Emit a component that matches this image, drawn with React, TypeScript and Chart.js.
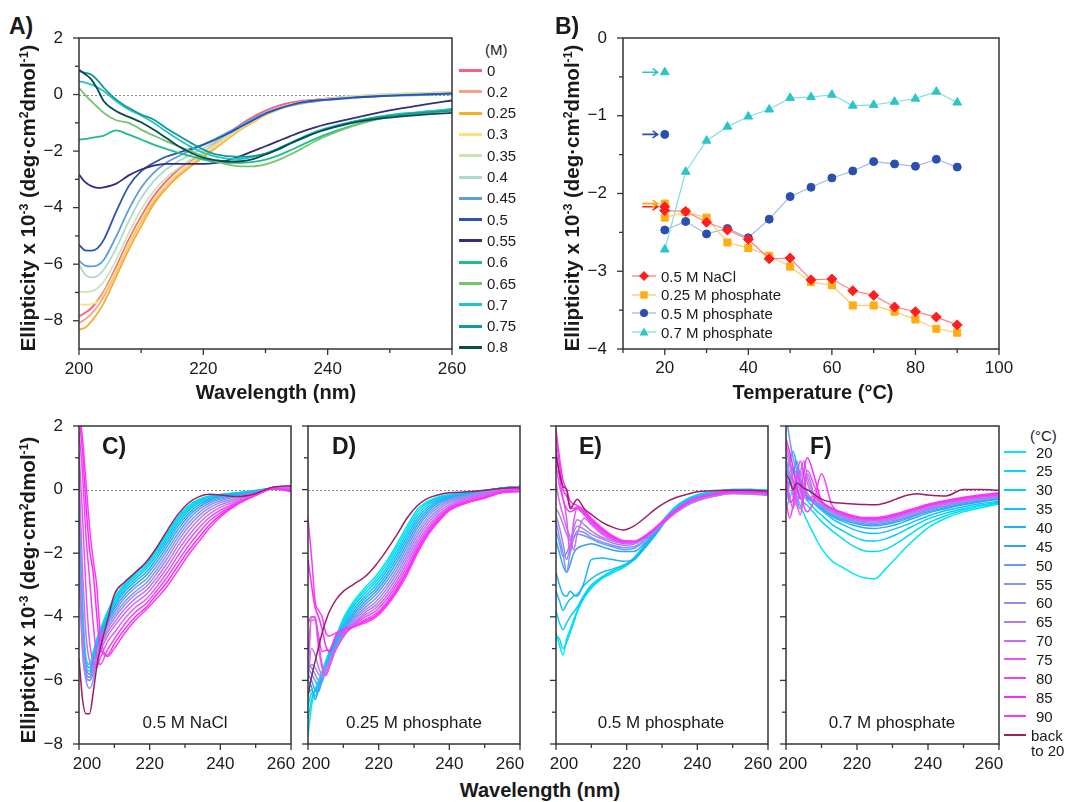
import React, { useEffect, useRef } from "react";
import { Chart, registerables } from "chart.js";

Chart.register(...registerables);

const FONT = "'Liberation Sans', Arial, Helvetica, sans-serif";
const TEXT = "#1a1a1a";

// ---------------- Panel A: concentration series ----------------
const wavelengthsA = [200, 201, 202, 203, 204, 206, 208, 210, 212, 214, 216, 218, 220, 222, 224, 226, 228, 230, 232, 234, 236, 238, 240, 244, 248, 252, 256, 260];
const concLabels = ["0", "0.2", "0.25", "0.3", "0.35", "0.4", "0.45", "0.5", "0.55", "0.6", "0.65", "0.7", "0.75", "0.8"];
const concColors = ["#f0657e", "#f5a28a", "#f8ad2a", "#fbe07c", "#cfe2b6", "#acdacd", "#609ddd", "#2c53b2", "#372c7c", "#1fbc8c", "#74c66c", "#22c4c4", "#119c98", "#0b4a4e"];
const A_00 = [-7.85, -7.72, -7.55, -7.28, -6.96, -6.08, -5.13, -4.31, -3.6, -3.07, -2.65, -2.33, -2.03, -1.71, -1.38, -1.06, -0.79, -0.57, -0.4, -0.29, -0.22, -0.18, -0.14, -0.07, -0.02, 0.01, 0.04, 0.06];
const A_02 = [-8.08, -7.95, -7.75, -7.49, -7.14, -6.25, -5.31, -4.48, -3.78, -3.22, -2.8, -2.45, -2.15, -1.83, -1.5, -1.18, -0.91, -0.67, -0.48, -0.35, -0.26, -0.19, -0.14, -0.06, -0.01, 0.02, 0.05, 0.06];
const A_025 = [-8.32, -8.24, -8.02, -7.73, -7.37, -6.43, -5.49, -4.66, -3.89, -3.33, -2.89, -2.54, -2.22, -1.89, -1.56, -1.24, -0.97, -0.73, -0.54, -0.4, -0.31, -0.24, -0.18, -0.08, -0.02, 0.02, 0.06, 0.08];
const A_03 = [-7.41, -7.43, -7.41, -7.32, -7.02, -6.19, -5.25, -4.42, -3.72, -3.19, -2.77, -2.42, -2.12, -1.83, -1.5, -1.2, -0.94, -0.71, -0.53, -0.39, -0.29, -0.22, -0.17, -0.08, -0.01, 0.02, 0.05, 0.07];
const A_035 = [-6.96, -6.98, -6.96, -6.84, -6.61, -5.84, -4.9, -4.07, -3.42, -2.95, -2.6, -2.3, -2.03, -1.75, -1.45, -1.18, -0.92, -0.68, -0.5, -0.35, -0.26, -0.2, -0.15, -0.06, 0.0, 0.04, 0.06, 0.08];
const A_04 = [-6.02, -6.37, -6.47, -6.41, -6.19, -5.43, -4.48, -3.66, -3.07, -2.65, -2.36, -2.12, -1.89, -1.65, -1.39, -1.14, -0.91, -0.68, -0.51, -0.38, -0.29, -0.22, -0.18, -0.09, -0.05, -0.01, 0.01, 0.04];
const A_045 = [-5.88, -6.05, -6.08, -6.04, -5.84, -5.01, -4.07, -3.3, -2.77, -2.42, -2.18, -1.97, -1.77, -1.56, -1.33, -1.1, -0.86, -0.65, -0.5, -0.39, -0.29, -0.24, -0.19, -0.12, -0.06, -0.04, -0.01, 0.01];
const A_05 = [-5.31, -5.51, -5.52, -5.43, -5.13, -4.13, -3.24, -2.71, -2.42, -2.2, -2.06, -1.92, -1.77, -1.59, -1.38, -1.14, -0.91, -0.68, -0.51, -0.37, -0.27, -0.21, -0.18, -0.11, -0.06, -0.02, 0.01, 0.04];
const A_055 = [-2.83, -3.1, -3.24, -3.3, -3.28, -3.15, -2.86, -2.65, -2.51, -2.45, -2.45, -2.45, -2.45, -2.42, -2.32, -2.18, -2.0, -1.83, -1.65, -1.47, -1.3, -1.16, -1.04, -0.84, -0.65, -0.48, -0.34, -0.21];
const A_06 = [-1.59, -1.57, -1.53, -1.5, -1.45, -1.27, -1.42, -1.59, -1.77, -1.92, -2.06, -2.18, -2.3, -2.38, -2.42, -2.42, -2.38, -2.3, -2.16, -1.97, -1.77, -1.57, -1.39, -1.1, -0.86, -0.71, -0.6, -0.51];
const A_065 = [0.24, -0.02, -0.24, -0.45, -0.65, -0.91, -1.0, -1.24, -1.45, -1.65, -1.83, -2.0, -2.18, -2.36, -2.48, -2.54, -2.54, -2.47, -2.32, -2.12, -1.89, -1.65, -1.45, -1.12, -0.88, -0.74, -0.65, -0.57];
const A_07 = [0.47, 0.42, 0.35, 0.25, 0.12, -0.24, -0.53, -0.74, -1.0, -1.3, -1.59, -1.85, -2.06, -2.2, -2.27, -2.28, -2.2, -2.09, -1.91, -1.71, -1.5, -1.32, -1.18, -0.96, -0.79, -0.67, -0.6, -0.53];
const A_075 = [0.83, 0.77, 0.7, 0.5, 0.24, -0.18, -0.47, -0.71, -0.88, -1.18, -1.45, -1.71, -1.95, -2.12, -2.18, -2.2, -2.18, -2.09, -1.92, -1.73, -1.55, -1.36, -1.2, -0.98, -0.81, -0.71, -0.63, -0.57];
const A_08 = [0.88, 0.72, 0.53, 0.18, -0.24, -0.59, -0.79, -0.98, -1.24, -1.53, -1.83, -2.06, -2.24, -2.32, -2.37, -2.36, -2.28, -2.12, -1.95, -1.73, -1.53, -1.36, -1.22, -1.0, -0.86, -0.77, -0.7, -0.65];
const seriesA = [A_00, A_02, A_025, A_03, A_035, A_04, A_045, A_05, A_055, A_06, A_065, A_07, A_075, A_08];

// ---------------- Panel B: temperature dependence ----------------
const temperatures = [20, 25, 30, 35, 40, 45, 50, 55, 60, 65, 70, 75, 80, 85, 90];
const nacl05 = [-2.22, -2.23, -2.37, -2.47, -2.59, -2.84, -2.83, -3.11, -3.1, -3.25, -3.31, -3.46, -3.52, -3.59, -3.69];
const phos025 = [-2.31, -2.24, -2.31, -2.63, -2.7, -2.8, -2.94, -3.14, -3.18, -3.44, -3.44, -3.52, -3.62, -3.74, -3.79];
const phos05 = [-2.47, -2.36, -2.52, -2.45, -2.57, -2.33, -2.04, -1.92, -1.8, -1.71, -1.59, -1.62, -1.65, -1.56, -1.66];
const phos07 = [-2.72, -1.72, -1.32, -1.14, -1.01, -0.92, -0.77, -0.76, -0.73, -0.87, -0.86, -0.82, -0.78, -0.69, -0.83];
const seriesBLabels = ["0.5 M NaCl", "0.25 M phosphate", "0.5 M phosphate", "0.7 M phosphate"];
const backTemperature = 20;
const backTo20Values = [-2.17, -2.13, -1.24, -0.44];
const arrowFrom = 14.6;
const arrowTo = 18.3;
const seriesBLine = ["#ff8282", "#ffca66", "#a8b7e6", "#80e1e1"];
const seriesBMarker = ["#ff1e1e", "#ffad14", "#2b4fae", "#2cc4c4"];
const seriesBStyle = ["rectRot", "rect", "circle", "triangle"];
const seriesBRadius = [5, 5, 4, 5];

// ---------------- Panels C–F: temperature spectra ----------------
const wavelengthsT = [200, 201, 202, 203, 204, 205, 206, 208, 210, 213, 216, 219, 222, 225, 228, 231, 234, 237, 240, 245, 250, 255, 260];
const tempLabels = ["20", "25", "30", "35", "40", "45", "50", "55", "60", "65", "70", "75", "80", "85", "90"];
const tempColors = ["#00e6f2", "#00dcf2", "#00d2f4", "#12c2f2", "#1eb2f0", "#32a4f2", "#6a9af4", "#8a92f4", "#a086f2", "#b878f4", "#cf68f2", "#e256f2", "#f044f2", "#fb2af8", "#ff36ff", "#9c1f66"];

const spectraC = [
  [-0.4, -3.6, -5.3, -5.5, -5.1, -4.7, -4.4, -3.85, -3.4, -2.95, -2.6, -2.3, -1.85, -1.35, -0.85, -0.5, -0.3, -0.2, -0.15, -0.1, -0.03, 0.05, 0.08],
  [-0.6, -3.8, -5.4, -5.6, -5.2, -4.8, -4.45, -3.9, -3.45, -3.0, -2.65, -2.35, -1.9, -1.4, -0.9, -0.55, -0.32, -0.21, -0.16, -0.1, -0.03, 0.05, 0.08],
  [-0.8, -4.0, -5.5, -5.6, -5.25, -4.85, -4.5, -3.95, -3.5, -3.05, -2.72, -2.42, -1.98, -1.48, -0.97, -0.6, -0.36, -0.24, -0.17, -0.11, -0.04, 0.05, 0.08],
  [-1.0, -4.2, -5.6, -5.7, -5.3, -4.9, -4.55, -4.0, -3.58, -3.12, -2.8, -2.5, -2.07, -1.57, -1.06, -0.67, -0.41, -0.27, -0.19, -0.12, -0.05, 0.06, 0.09],
  [-1.3, -4.4, -5.7, -5.8, -5.4, -4.95, -4.6, -4.08, -3.66, -3.2, -2.88, -2.6, -2.17, -1.67, -1.15, -0.75, -0.47, -0.31, -0.22, -0.14, -0.06, 0.06, 0.09],
  [-1.6, -4.6, -5.8, -5.9, -5.5, -5.0, -4.65, -4.15, -3.75, -3.3, -2.98, -2.7, -2.28, -1.78, -1.26, -0.84, -0.54, -0.36, -0.26, -0.16, -0.07, 0.06, 0.1],
  [-1.9, -4.8, -5.9, -6.0, -5.6, -5.1, -4.7, -4.22, -3.85, -3.4, -3.08, -2.82, -2.4, -1.9, -1.38, -0.94, -0.62, -0.42, -0.3, -0.19, -0.08, 0.05, 0.1],
  [-2.2, -5.0, -6.0, -6.25, -6.0, -5.3, -4.8, -4.3, -3.95, -3.52, -3.2, -2.94, -2.52, -2.03, -1.5, -1.05, -0.72, -0.49, -0.35, -0.22, -0.09, 0.05, 0.1],
  [-2.5, -5.1, -5.9, -6.0, -5.8, -5.3, -4.9, -4.4, -4.05, -3.62, -3.3, -3.05, -2.64, -2.16, -1.63, -1.17, -0.82, -0.57, -0.41, -0.26, -0.11, 0.04, 0.08],
  [-1.5, -4.6, -5.6, -5.8, -5.7, -5.4, -5.0, -4.5, -4.18, -3.75, -3.42, -3.17, -2.77, -2.3, -1.77, -1.3, -0.93, -0.65, -0.48, -0.3, -0.13, 0.04, 0.06],
  [0.5, -2.5, -4.6, -5.4, -5.6, -5.5, -5.1, -4.62, -4.3, -3.88, -3.55, -3.3, -2.9, -2.45, -1.92, -1.45, -1.06, -0.76, -0.56, -0.35, -0.15, 0.03, 0.04],
  [1.2, -0.8, -3.2, -4.8, -5.4, -5.6, -5.3, -4.8, -4.5, -4.05, -3.7, -3.45, -3.05, -2.6, -2.08, -1.6, -1.2, -0.87, -0.65, -0.39, -0.16, 0.03, 0.02],
  [1.8, 0.5, -1.5, -2.8, -4.2, -5.2, -5.5, -5.05, -4.7, -4.22, -3.85, -3.58, -3.18, -2.75, -2.25, -1.77, -1.35, -0.98, -0.73, -0.42, -0.17, 0.03, 0.0],
  [2.3, 1.2, -0.5, -1.9, -2.6, -3.9, -5.0, -5.2, -4.85, -4.38, -4.0, -3.7, -3.3, -2.9, -2.4, -1.92, -1.5, -1.1, -0.8, -0.44, -0.18, 0.03, -0.04],
  [2.5, 1.6, 0.2, -1.2, -2.2, -3.0, -4.5, -5.25, -5.0, -4.5, -4.1, -3.78, -3.42, -3.03, -2.55, -2.05, -1.62, -1.2, -0.86, -0.46, -0.18, 0.03, -0.07],
  [-5.3, -6.6, -7.05, -7.05, -6.4, -5.6, -5.0, -4.15, -3.3, -2.9, -2.6, -2.28, -1.82, -1.28, -0.78, -0.42, -0.22, -0.15, -0.17, -0.22, -0.12, 0.08, 0.12],
];

const spectraD = [
  [-7.75, -6.8, -6.3, -6.0, -5.7, -5.4, -5.1, -4.6, -4.05, -3.5, -3.1, -2.75, -2.3, -1.75, -1.15, -0.62, -0.36, -0.22, -0.15, -0.1, -0.02, 0.05, 0.1],
  [-7.2, -6.6, -6.3, -6.05, -5.75, -5.45, -5.15, -4.65, -4.12, -3.58, -3.18, -2.84, -2.4, -1.85, -1.25, -0.7, -0.4, -0.25, -0.17, -0.1, -0.03, 0.05, 0.1],
  [-6.8, -6.4, -6.35, -6.1, -5.8, -5.5, -5.2, -4.7, -4.2, -3.66, -3.27, -2.93, -2.5, -1.96, -1.36, -0.8, -0.46, -0.28, -0.19, -0.11, -0.03, 0.05, 0.1],
  [-6.4, -6.3, -6.5, -6.2, -5.85, -5.55, -5.25, -4.75, -4.28, -3.75, -3.36, -3.03, -2.6, -2.07, -1.47, -0.9, -0.53, -0.32, -0.21, -0.12, -0.04, 0.05, 0.1],
  [-6.0, -6.2, -6.6, -6.3, -5.9, -5.6, -5.3, -4.8, -4.35, -3.84, -3.45, -3.13, -2.71, -2.18, -1.58, -1.0, -0.6, -0.36, -0.24, -0.14, -0.05, 0.04, 0.1],
  [-5.8, -6.0, -6.3, -6.35, -6.0, -5.65, -5.35, -4.85, -4.42, -3.92, -3.54, -3.23, -2.82, -2.3, -1.7, -1.1, -0.68, -0.41, -0.27, -0.16, -0.06, 0.04, 0.1],
  [-5.6, -5.8, -6.0, -6.2, -6.05, -5.7, -5.4, -4.9, -4.48, -4.0, -3.63, -3.33, -2.93, -2.42, -1.82, -1.2, -0.76, -0.47, -0.31, -0.18, -0.07, 0.03, 0.1],
  [-5.5, -5.6, -5.8, -6.0, -5.9, -5.65, -5.4, -4.95, -4.54, -4.07, -3.72, -3.44, -3.05, -2.54, -1.94, -1.32, -0.85, -0.54, -0.36, -0.2, -0.08, 0.02, 0.08],
  [-5.7, -5.5, -5.6, -5.8, -5.85, -5.6, -5.4, -5.0, -4.6, -4.14, -3.8, -3.55, -3.16, -2.66, -2.06, -1.43, -0.95, -0.62, -0.41, -0.23, -0.1, 0.01, 0.08],
  [-6.0, -5.0, -5.2, -5.6, -5.8, -5.7, -5.4, -5.0, -4.62, -4.2, -3.88, -3.65, -3.27, -2.78, -2.18, -1.55, -1.05, -0.7, -0.47, -0.26, -0.12, 0.0, 0.06],
  [-5.9, -4.1, -4.1, -5.0, -5.6, -5.8, -5.5, -5.0, -4.62, -4.24, -3.95, -3.74, -3.38, -2.9, -2.3, -1.66, -1.15, -0.78, -0.53, -0.3, -0.15, -0.02, 0.05],
  [-5.2, -4.0, -4.0, -4.8, -5.5, -5.85, -5.6, -5.0, -4.62, -4.27, -4.02, -3.83, -3.48, -3.0, -2.42, -1.76, -1.23, -0.85, -0.57, -0.34, -0.18, -0.04, 0.03],
  [-4.2, -4.0, -4.05, -4.6, -5.1, -5.05, -5.05, -4.6, -4.5, -4.3, -4.1, -3.92, -3.58, -3.1, -2.52, -1.85, -1.3, -0.9, -0.6, -0.38, -0.22, -0.06, 0.0],
  [-2.2, -3.0, -3.7, -4.0, -4.4, -4.9, -5.1, -4.55, -4.4, -4.32, -4.15, -3.98, -3.65, -3.18, -2.6, -1.92, -1.36, -0.95, -0.63, -0.4, -0.25, -0.08, -0.05],
  [-0.9, -2.1, -3.5, -3.8, -4.0, -4.5, -4.6, -4.5, -4.38, -4.3, -4.2, -4.03, -3.7, -3.25, -2.68, -2.0, -1.42, -1.0, -0.66, -0.42, -0.27, -0.1, -0.07],
  [-6.5, -5.9, -5.4, -4.95, -4.5, -4.15, -3.85, -3.45, -3.2, -2.97, -2.75, -2.4, -1.95, -1.45, -0.9, -0.5, -0.27, -0.16, -0.1, -0.07, -0.02, 0.04, 0.06],
];

const spectraE = [
  [-4.5, -4.9, -5.2, -4.7, -4.4, -4.1, -3.8, -3.35, -3.05, -2.75, -2.6, -2.45, -2.2, -1.8, -1.35, -0.92, -0.55, -0.32, -0.18, -0.07, 0.0, 0.0, -0.02],
  [-4.6, -4.7, -5.0, -4.8, -4.5, -4.2, -3.85, -3.4, -3.1, -2.8, -2.62, -2.45, -2.22, -1.85, -1.42, -0.98, -0.62, -0.37, -0.2, -0.08, -0.01, 0.0, -0.03],
  [-3.8, -4.2, -4.4, -4.2, -4.0, -3.85, -3.7, -3.3, -3.0, -2.75, -2.55, -2.4, -2.15, -1.75, -1.3, -0.87, -0.52, -0.3, -0.16, -0.06, 0.0, 0.0, -0.02],
  [-3.2, -3.5, -3.8, -3.6, -3.45, -3.35, -3.3, -3.0, -2.8, -2.6, -2.5, -2.38, -2.2, -1.8, -1.38, -0.95, -0.6, -0.35, -0.2, -0.08, -0.02, -0.03, -0.05],
  [-2.6, -3.0, -3.3, -3.35, -3.2, -3.3, -3.35, -2.9, -2.2, -2.15, -2.2, -2.25, -2.2, -1.85, -1.45, -1.0, -0.68, -0.42, -0.25, -0.12, -0.05, -0.05, -0.08],
  [-1.6, -2.0, -2.4, -2.6, -2.35, -2.0, -1.85, -1.75, -1.7, -1.8, -1.9, -1.95, -1.95, -1.7, -1.35, -0.98, -0.68, -0.45, -0.3, -0.15, -0.07, -0.08, -0.1],
  [-1.3, -1.7, -2.1, -2.0, -1.7, -1.5, -1.4, -1.45, -1.55, -1.7, -1.8, -1.88, -1.85, -1.62, -1.3, -0.98, -0.7, -0.48, -0.32, -0.18, -0.1, -0.12, -0.15],
  [-1.0, -1.5, -2.0, -2.6, -2.0, -1.55, -1.3, -1.35, -1.5, -1.65, -1.75, -1.82, -1.8, -1.6, -1.3, -1.0, -0.72, -0.5, -0.35, -0.2, -0.12, -0.14, -0.18],
  [-0.8, -1.2, -1.7, -2.2, -1.8, -1.35, -1.15, -1.25, -1.4, -1.55, -1.68, -1.75, -1.72, -1.55, -1.28, -0.98, -0.72, -0.5, -0.35, -0.2, -0.12, -0.14, -0.18],
  [-0.6, -0.8, -1.1, -1.4, -1.6, -1.2, -0.95, -1.1, -1.3, -1.5, -1.62, -1.7, -1.68, -1.5, -1.25, -0.95, -0.7, -0.48, -0.33, -0.19, -0.11, -0.13, -0.16],
  [0.2, -0.4, -0.8, -1.2, -1.5, -1.9, -1.4, -0.9, -1.1, -1.4, -1.58, -1.68, -1.66, -1.5, -1.25, -0.95, -0.68, -0.46, -0.3, -0.17, -0.1, -0.11, -0.14],
  [0.8, 0.1, -0.3, -0.9, -2.0, -1.0, -0.6, -0.8, -1.05, -1.35, -1.55, -1.66, -1.65, -1.5, -1.25, -0.95, -0.68, -0.45, -0.29, -0.16, -0.09, -0.1, -0.13],
  [1.3, 0.4, -0.3, -0.6, -0.7, -0.65, -0.6, -0.75, -1.0, -1.3, -1.52, -1.64, -1.64, -1.5, -1.25, -0.95, -0.66, -0.43, -0.27, -0.14, -0.07, -0.08, -0.1],
  [1.7, 0.8, 0.0, -0.2, -0.5, -0.6, -0.55, -0.7, -0.95, -1.25, -1.48, -1.62, -1.63, -1.48, -1.22, -0.92, -0.64, -0.42, -0.26, -0.13, -0.06, -0.07, -0.09],
  [1.9, 1.0, 0.3, 0.0, -0.35, -0.45, -0.5, -0.65, -0.9, -1.2, -1.45, -1.6, -1.62, -1.46, -1.2, -0.9, -0.62, -0.4, -0.25, -0.12, -0.05, -0.06, -0.08],
  [1.1, 0.5, 0.1, 0.0, -0.6, -0.45, -0.3, -0.6, -0.78, -1.02, -1.18, -1.27, -1.15, -0.9, -0.62, -0.4, -0.25, -0.15, -0.07, -0.03, -0.02, -0.02, -0.05],
];

const spectraF = [
  [-0.6, -0.3, 0.0, -0.2, -0.5, -0.75, -1.0, -1.45, -1.85, -2.25, -2.45, -2.65, -2.77, -2.8, -2.5, -2.15, -1.8, -1.48, -1.2, -0.9, -0.7, -0.57, -0.45],
  [0.2, 0.4, 0.3, 0.0, -0.25, -0.4, -0.5, -0.75, -1.0, -1.3, -1.55, -1.78, -1.92, -1.95, -1.88, -1.7, -1.48, -1.25, -1.05, -0.82, -0.65, -0.52, -0.42],
  [0.5, 0.8, 0.6, 0.3, 0.0, -0.2, -0.35, -0.6, -0.8, -1.1, -1.3, -1.48, -1.6, -1.62, -1.55, -1.42, -1.25, -1.08, -0.92, -0.74, -0.6, -0.48, -0.4],
  [0.3, 0.9, 1.2, 0.8, 0.3, 0.0, -0.2, -0.45, -0.65, -0.92, -1.1, -1.25, -1.35, -1.38, -1.33, -1.22, -1.1, -0.96, -0.83, -0.66, -0.54, -0.44, -0.36],
  [0.0, 0.3, 0.6, 0.5, 0.1, -0.1, -0.25, -0.4, -0.6, -0.85, -1.0, -1.12, -1.2, -1.22, -1.18, -1.1, -0.98, -0.86, -0.74, -0.6, -0.48, -0.38, -0.3],
  [-0.4, 0.2, 0.5, 0.9, 0.4, 0.0, -0.2, -0.35, -0.55, -0.8, -0.95, -1.05, -1.12, -1.14, -1.1, -1.02, -0.92, -0.8, -0.7, -0.56, -0.45, -0.36, -0.28],
  [2.4, 1.6, 1.0, 0.6, 0.1, -0.2, -0.3, -0.4, -0.55, -0.78, -0.92, -1.02, -1.08, -1.1, -1.06, -0.98, -0.88, -0.77, -0.66, -0.52, -0.42, -0.33, -0.26],
  [0.8, 0.4, 0.0, -0.3, -0.1, 0.2, -0.1, -0.35, -0.5, -0.72, -0.88, -0.98, -1.04, -1.06, -1.02, -0.95, -0.85, -0.74, -0.63, -0.5, -0.4, -0.31, -0.24],
  [1.0, 0.5, -0.2, -0.5, 0.3, 0.6, 0.2, -0.3, -0.5, -0.7, -0.85, -0.95, -1.0, -1.02, -0.98, -0.9, -0.8, -0.7, -0.6, -0.47, -0.37, -0.28, -0.22],
  [1.2, 0.8, 0.2, -0.3, -0.6, 0.1, 0.5, -0.2, -0.45, -0.68, -0.83, -0.92, -0.97, -0.98, -0.95, -0.87, -0.77, -0.66, -0.56, -0.44, -0.34, -0.26, -0.2],
  [0.6, -0.2, -0.6, -0.1, 0.5, 0.9, 0.4, -0.2, -0.4, -0.65, -0.8, -0.9, -0.95, -0.96, -0.92, -0.84, -0.74, -0.64, -0.54, -0.42, -0.32, -0.24, -0.18],
  [1.4, 1.0, 0.3, -0.4, -0.8, -0.2, 0.6, 0.1, -0.4, -0.62, -0.78, -0.88, -0.93, -0.94, -0.9, -0.82, -0.72, -0.62, -0.52, -0.4, -0.3, -0.22, -0.16],
  [-0.3, -0.9, -0.5, 0.3, 0.9, 0.5, -0.3, -0.2, -0.38, -0.6, -0.76, -0.86, -0.91, -0.92, -0.88, -0.8, -0.7, -0.6, -0.5, -0.38, -0.28, -0.2, -0.14],
  [1.6, 1.2, 0.7, 0.1, -0.3, 0.6, 1.0, 0.4, -0.35, -0.58, -0.74, -0.84, -0.9, -0.9, -0.86, -0.78, -0.68, -0.58, -0.48, -0.36, -0.26, -0.18, -0.12],
  [0.4, -0.4, -0.3, 0.5, 0.2, -0.5, -0.7, -0.3, 0.5, -0.5, -0.72, -0.82, -0.88, -0.88, -0.84, -0.76, -0.66, -0.56, -0.46, -0.34, -0.24, -0.16, -0.1],
  [0.5, 0.3, 0.0, 0.2, 0.15, 0.05, 0.0, -0.15, -0.3, -0.4, -0.43, -0.45, -0.47, -0.48, -0.42, -0.3, -0.18, -0.13, -0.17, -0.2, 0.0, 0.0, -0.02],
];

// ---------------- Axis ticks ----------------
const waveMajor = [200, 220, 240, 260];
const waveMinor = [210, 230, 250];
const ellMajorA = [2, 0, -2, -4, -6, -8];
const ellMinorA = [1, -1, -3, -5, -7];
const tempMajor = [20, 40, 60, 80, 100];
const tempMinor = [10, 30, 50, 70, 90];
const ellMajorB = [0, -1, -2, -3, -4];
const ellMinorB = [-0.5, -1.5, -2.5, -3.5];

// ---------------- Layout helpers ----------------
const PAD_T = 30;
const PAD_R = 30;
const AXIS_W = 45;
const AXIS_H = 30;

type Box = { L: number; T: number; R: number; B: number };

function fmt(v: number) {
  return v < 0 ? "\u2212" + String(Math.abs(v)) : String(v);
}

function framePlugin(o: any) {
  return {
    id: "frame",
    beforeDatasetsDraw(chart: any) {
      if (!o.zero) return;
      const { ctx, chartArea: a } = chart;
      const py = Math.round(chart.scales.y.getPixelForValue(0)) + 0.5;
      ctx.save();
      ctx.strokeStyle = "#8c8c8c";
      ctx.lineWidth = 1;
      ctx.setLineDash([2, 2]);
      ctx.beginPath();
      ctx.moveTo(a.left, py);
      ctx.lineTo(a.right, py);
      ctx.stroke();
      ctx.restore();
    },
    afterDatasetsDraw(chart: any) {
      const { ctx, chartArea: a, scales } = chart;
      const sx = scales.x;
      const sy = scales.y;
      ctx.save();
      if (o.arrows) {
        o.arrows.forEach((ar: any) => {
          const x0 = sx.getPixelForValue(ar.from);
          const x1 = sx.getPixelForValue(ar.to);
          const py = sy.getPixelForValue(ar.y);
          ctx.strokeStyle = ar.color;
          ctx.lineWidth = 1.6;
          ctx.beginPath();
          ctx.moveTo(x0, py);
          ctx.lineTo(x1, py);
          ctx.moveTo(x1 - 5, py - 3.5);
          ctx.lineTo(x1, py);
          ctx.lineTo(x1 - 5, py + 3.5);
          ctx.stroke();
        });
      }
      ctx.strokeStyle = "#333";
      ctx.lineWidth = 1.5;
      ctx.strokeRect(a.left, a.top, a.right - a.left, a.bottom - a.top);
      ctx.lineWidth = 1.3;
      const tx = (vals: number[], len: number) =>
        vals.forEach((v) => {
          const px = sx.getPixelForValue(v);
          ctx.beginPath();
          ctx.moveTo(px, a.bottom);
          ctx.lineTo(px, a.bottom + len);
          ctx.stroke();
        });
      const ty = (vals: number[], len: number) =>
        vals.forEach((v) => {
          const py = sy.getPixelForValue(v);
          ctx.beginPath();
          ctx.moveTo(a.left, py);
          ctx.lineTo(a.left - len, py);
          ctx.stroke();
        });
      tx(o.xMajor, 6);
      tx(o.xMinor, 4);
      ty(o.yMajor, 6);
      ty(o.yMinor, 4);
      if (o.customXLabels) {
        ctx.fillStyle = TEXT;
        ctx.font = "17px " + FONT;
        ctx.textAlign = "center";
        ctx.textBaseline = "middle";
        const n = o.xMajor.length;
        o.xMajor.forEach((v: number, i: number) => {
          let px = sx.getPixelForValue(v);
          if (i === 0) px += o.edgeShiftFirst;
          if (i === n - 1) px -= o.edgeShiftLast;
          ctx.fillText(String(v), px, a.bottom + 20);
        });
      }
      ctx.restore();
    },
  };
}

function axisScale(min: number, max: number, major: number[], showLabels: boolean, isX: boolean) {
  return {
    type: "linear",
    min,
    max,
    afterBuildTicks: (s: any) => {
      s.ticks = major.map((v) => ({ value: v }));
    },
    afterFit: (s: any) => {
      if (isX) s.height = AXIS_H;
      else s.width = AXIS_W;
    },
    grid: { display: false, drawTicks: false },
    border: { display: false },
    ticks: {
      padding: isX ? 9 : 16,
      color: TEXT,
      font: { family: FONT, size: 17 },
      maxRotation: 0,
      autoSkip: false,
      callback: (v: any) => (showLabels ? fmt(Number(v)) : ""),
    },
  };
}

function baseOptions(x: any, y: any) {
  return {
    responsive: false,
    animation: false,
    events: [],
    layout: { padding: { top: PAD_T, right: PAD_R, left: 0, bottom: 0 } },
    plugins: { legend: { display: false }, tooltip: { enabled: false } },
    scales: { x, y },
  };
}

function spectraConfig(grid: number[], rows: number[][], colors: string[], yMin: number, showY: boolean, lw: number, shiftFirst: number, shiftLast: number) {
  return {
    type: "line",
    data: {
      datasets: rows.map((r, i) => ({
        data: grid.map((w, k) => ({ x: w, y: r[k] })),
        borderColor: colors[i],
        borderWidth: lw,
        pointRadius: 0,
        cubicInterpolationMode: "monotone",
        fill: false,
        order: rows.length - 1 - i,
      })),
    },
    options: baseOptions(axisScale(200, 260, waveMajor, false, true), axisScale(yMin, 2, ellMajorA, showY, false)),
    plugins: [
      framePlugin({
        zero: true,
        xMajor: waveMajor,
        xMinor: waveMinor,
        yMajor: ellMajorA,
        yMinor: ellMinorA,
        customXLabels: true,
        edgeShiftFirst: shiftFirst,
        edgeShiftLast: shiftLast,
      }),
    ],
  };
}

function configB() {
  const series = [nacl05, phos025, phos05, phos07];
  const main = series.map((s, i) => ({
    label: seriesBLabels[i],
    data: temperatures.map((t, k) => ({ x: t, y: s[k] })),
    borderColor: seriesBLine[i],
    borderWidth: 1.2,
    pointStyle: seriesBStyle[i],
    pointRadius: seriesBRadius[i],
    pointBackgroundColor: seriesBMarker[i],
    pointBorderColor: seriesBMarker[i],
    pointBorderWidth: 1,
    fill: false,
    tension: 0,
  }));
  const back = backTo20Values.map((v, i) => ({
    label: seriesBLabels[i] + " back",
    data: [{ x: backTemperature, y: v }],
    showLine: false,
    pointStyle: seriesBStyle[i],
    pointRadius: seriesBRadius[i],
    pointBackgroundColor: seriesBMarker[i],
    pointBorderColor: seriesBMarker[i],
    pointBorderWidth: 1,
  }));
  return {
    type: "line",
    data: { datasets: [...main, ...back] },
    options: baseOptions(axisScale(10, 100, tempMajor, true, true), axisScale(-4, 0, ellMajorB, true, false)),
    plugins: [
      framePlugin({
        zero: false,
        xMajor: tempMajor,
        xMinor: tempMinor,
        yMajor: ellMajorB,
        yMinor: ellMinorB,
        arrows: backTo20Values.map((v, i) => ({ from: arrowFrom, to: arrowTo, y: v, color: seriesBMarker[i] })),
      }),
    ],
  };
}

function ChartPanel({ box, build }: { box: Box; build: () => any }) {
  const ref = useRef<HTMLCanvasElement | null>(null);
  const w = AXIS_W + (box.R - box.L) + PAD_R;
  const h = PAD_T + (box.B - box.T) + AXIS_H;
  useEffect(() => {
    const c = new Chart(ref.current as HTMLCanvasElement, build() as any);
    return () => c.destroy();
  }, []);
  return (
    <canvas
      ref={ref}
      width={w}
      height={h}
      style={{ position: "absolute", left: box.L - AXIS_W, top: box.T - PAD_T, width: w, height: h, display: "block" }}
    />
  );
}

function Txt(props: { x: number; y: number; size: number; bold?: boolean; center?: boolean; children: any }) {
  return (
    <div
      style={{
        position: "absolute",
        left: props.x,
        top: props.y - props.size / 2,
        fontSize: props.size,
        lineHeight: 1,
        fontWeight: props.bold ? 700 : 400,
        whiteSpace: "nowrap",
        color: TEXT,
        transform: props.center ? "translateX(-50%)" : undefined,
      }}
    >
      {props.children}
    </div>
  );
}

const supStyle: any = { fontSize: "0.6em", position: "relative", top: "-0.6em", verticalAlign: "baseline" };

function YTitle({ x, y }: { x: number; y: number }) {
  return (
    <div
      style={{
        position: "absolute",
        left: x,
        top: y,
        transform: "translate(-50%,-50%) rotate(-90deg)",
        fontSize: 20.5,
        fontWeight: 700,
        lineHeight: 1,
        whiteSpace: "nowrap",
        color: TEXT,
      }}
    >
      Ellipticity x 10<span style={supStyle}>-3</span> (deg·cm<span style={supStyle}>2</span>dmol<span style={supStyle}>-1</span>)
    </div>
  );
}

function Marker({ style, color }: { style: string; color: string }) {
  if (style === "rectRot") return <polygon points="12,1 17,6 12,11 7,6" fill={color} />;
  if (style === "rect") return <rect x={8.3} y={2.3} width={7.4} height={7.4} fill={color} />;
  if (style === "circle") return <circle cx={12} cy={6} r={4} fill={color} />;
  return <polygon points="12,1.5 16.5,9.5 7.5,9.5" fill={color} />;
}

const boxA: Box = { L: 79, T: 38, R: 452, B: 349 };
const boxB: Box = { L: 623, T: 38, R: 999, B: 349 };
const boxC: Box = { L: 79, T: 426, R: 291, B: 744 };
const boxD: Box = { L: 308, T: 426, R: 520, B: 744 };
const boxE: Box = { L: 556, T: 426, R: 768, B: 744 };
const boxF: Box = { L: 786, T: 426, R: 999, B: 744 };

export default function App() {
  return (
    <div
      style={{
        position: "absolute",
        left: 0,
        top: 0,
        width: 1077,
        height: 802,
        background: "#ffffff",
        overflow: "hidden",
        fontFamily: FONT,
      }}
    >
      <ChartPanel box={boxA} build={() => spectraConfig(wavelengthsA, seriesA, concColors, -9, true, 1.8, 0, 0)} />
      <ChartPanel box={boxB} build={configB} />
      <ChartPanel box={boxC} build={() => spectraConfig(wavelengthsT, spectraC, tempColors, -8, true, 1.5, 8, 10)} />
      <ChartPanel box={boxD} build={() => spectraConfig(wavelengthsT, spectraD, tempColors, -8, false, 1.5, 8, 10)} />
      <ChartPanel box={boxE} build={() => spectraConfig(wavelengthsT, spectraE, tempColors, -8, false, 1.5, 8, 10)} />
      <ChartPanel box={boxF} build={() => spectraConfig(wavelengthsT, spectraF, tempColors, -8, false, 1.5, 7, 10)} />

      {/* panel letters */}
      <Txt x={9} y={26} size={23} bold>A)</Txt>
      <Txt x={555} y={26} size={23} bold>B)</Txt>
      <Txt x={102} y={446} size={23} bold>C)</Txt>
      <Txt x={332} y={446} size={23} bold>D)</Txt>
      <Txt x={579} y={446} size={23} bold>E)</Txt>
      <Txt x={810} y={446} size={23} bold>F)</Txt>

      {/* axis titles */}
      <YTitle x={28} y={198} />
      <YTitle x={572} y={198} />
      <YTitle x={28} y={590} />
      <Txt x={276} y={392} size={20} bold center>Wavelength (nm)</Txt>
      <Txt x={813} y={392} size={20} bold center>Temperature (°C)</Txt>
      <Txt x={540} y={790} size={20} bold center>Wavelength (nm)</Txt>

      {/* in-panel labels */}
      <Txt x={185} y={722} size={17} center>0.5 M NaCl</Txt>
      <Txt x={414} y={722} size={17} center>0.25 M phosphate</Txt>
      <Txt x={661} y={722} size={17} center>0.5 M phosphate</Txt>
      <Txt x={892} y={722} size={17} center>0.7 M phosphate</Txt>

      {/* legend A */}
      <Txt x={485} y={49} size={15}>(M)</Txt>
      {concLabels.map((lab, i) => {
        const cy = 70 + i * 21.3;
        return (
          <React.Fragment key={"a" + i}>
            <div style={{ position: "absolute", left: 459, top: Math.round(cy) - 1, width: 23, height: 2.5, background: concColors[i] }} />
            <Txt x={487} y={cy} size={15}>{lab}</Txt>
          </React.Fragment>
        );
      })}

      {/* legend B */}
      {seriesBLabels.map((lab, i) => {
        const cy = 276 + i * 18.7;
        return (
          <React.Fragment key={"b" + i}>
            <svg width={24} height={12} style={{ position: "absolute", left: 632, top: cy - 6 }}>
              <line x1={0} y1={6} x2={24} y2={6} stroke={seriesBLine[i]} strokeWidth={1.3} />
              <Marker style={seriesBStyle[i]} color={seriesBMarker[i]} />
            </svg>
            <Txt x={661} y={cy} size={15}>{lab}</Txt>
          </React.Fragment>
        );
      })}

      {/* legend F */}
      <Txt x={1030} y={435} size={15}>(°C)</Txt>
      {tempLabels.map((lab, i) => {
        const cy = 452 + i * 18.86;
        return (
          <React.Fragment key={"f" + i}>
            <div style={{ position: "absolute", left: 1004, top: Math.round(cy) - 1, width: 22, height: 2, background: tempColors[i] }} />
            <Txt x={1036} y={cy} size={15}>{lab}</Txt>
          </React.Fragment>
        );
      })}
      <div style={{ position: "absolute", left: 1004, top: 735 - 1, width: 22, height: 2, background: tempColors[15] }} />
      <Txt x={1031} y={735} size={15}>back</Txt>
      <Txt x={1031} y={750} size={15}>to 20</Txt>
    </div>
  );
}
